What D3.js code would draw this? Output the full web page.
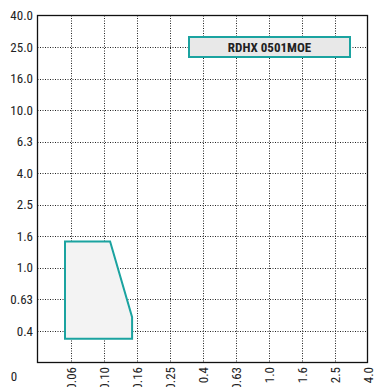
<!DOCTYPE html>
<html><head><meta charset="utf-8">
<script src="https://cdn.jsdelivr.net/npm/d3@7"></script>
<style>
body{margin:0;background:#fff;}
text{font-family:"Liberation Sans Narrow","Arial Narrow","Roboto Condensed","Liberation Sans",sans-serif;fill:#222;}
</style></head><body>
<svg id="c" width="377" height="387"></svg>
<script>
const xTicks = [0, 0.06, 0.10, 0.16, 0.25, 0.4, 0.63, 1.0, 1.6, 2.5, 4.0];
const xTickLabels = ["0", "0.06", "0.10", "0.16", "0.25", "0.4", "0.63", "1.0", "1.6", "2.5", "4.0"];
const yTicks = [0, 0.4, 0.63, 1.0, 1.6, 2.5, 4.0, 6.3, 10.0, 16.0, 25.0, 40.0];
const yTickLabels = ["0", "0.4", "0.63", "1.0", "1.6", "2.5", "4.0", "6.3", "10.0", "16.0", "25.0", "40.0"];
const areaX = [0.05, 0.05, 0.112, 0.152, 0.152];
const areaY = [0.30, 1.50, 1.50, 0.50, 0.30];
const seriesName = "RDHX 0501MOE";

const L = 37.5, R = 367.5, T = 15.5, B = 362.5;
const svg = d3.select("#c");
const x = d3.scaleLinear().domain(xTicks).range(xTicks.map((d,i)=>L + i*(R-L)/(xTicks.length-1)));
const y = d3.scaleLinear().domain(yTicks).range(yTicks.map((d,i)=>B - i*(B-T)/(yTicks.length-1)));
const teal = "#1ba3a0";

// grid
const g = svg.append("g");
g.selectAll(".vg").data(xTicks.slice(1,-1)).enter().append("line")
  .attr("x1",d=>Math.round(x(d))+0.5).attr("x2",d=>Math.round(x(d))+0.5)
  .attr("y1",T).attr("y2",B)
  .attr("stroke","#222").attr("stroke-width",1).attr("stroke-dasharray","1,1.5");
g.selectAll(".hg").data(yTicks.slice(1,-1)).enter().append("line")
  .attr("y1",d=>Math.round(y(d))+0.5).attr("y2",d=>Math.round(y(d))+0.5)
  .attr("x1",L).attr("x2",R)
  .attr("stroke","#222").attr("stroke-width",1).attr("stroke-dasharray","1,1.5");

// area
const pts = areaX.map((v,i)=>[x(v), y(areaY[i])]);
svg.append("path").attr("d", d3.line()(pts)+"Z")
  .attr("fill","#f3f3f3").attr("stroke",teal).attr("stroke-width",2);

// frame
svg.append("rect").attr("x",L).attr("y",T).attr("width",R-L).attr("height",B-T)
  .attr("fill","none").attr("stroke","#111").attr("stroke-width",1.3);

// y labels
svg.selectAll(".yl").data(yTicks.slice(1)).enter().append("text")
  .attr("x",33).attr("y",d=>y(d)).attr("dy","0.35em").attr("text-anchor","end")
  .attr("font-size",13).text((d,i)=>yTickLabels[i+1]);
// corner zero
svg.append("text").attr("x",14).attr("y",376).attr("dy","0.35em").attr("text-anchor","middle")
  .attr("font-size",13).text(xTickLabels[0]);
// x labels
svg.selectAll(".xl").data(xTicks.slice(1)).enter().append("text")
  .attr("transform",d=>`translate(${x(d)+1},367) rotate(-90)`)
  .attr("dy","0.35em").attr("text-anchor","end")
  .attr("font-size",13).text((d,i)=>xTickLabels[i+1]);

// legend
svg.append("rect").attr("x",189).attr("y",37).attr("width",161).attr("height",20)
  .attr("fill","#e8e8e8").attr("stroke",teal).attr("stroke-width",2);
svg.append("text").attr("x",269.5).attr("y",47).attr("dy","0.35em").attr("text-anchor","middle")
  .attr("font-size",13).attr("font-weight","bold").text(seriesName);
</script></body></html>
